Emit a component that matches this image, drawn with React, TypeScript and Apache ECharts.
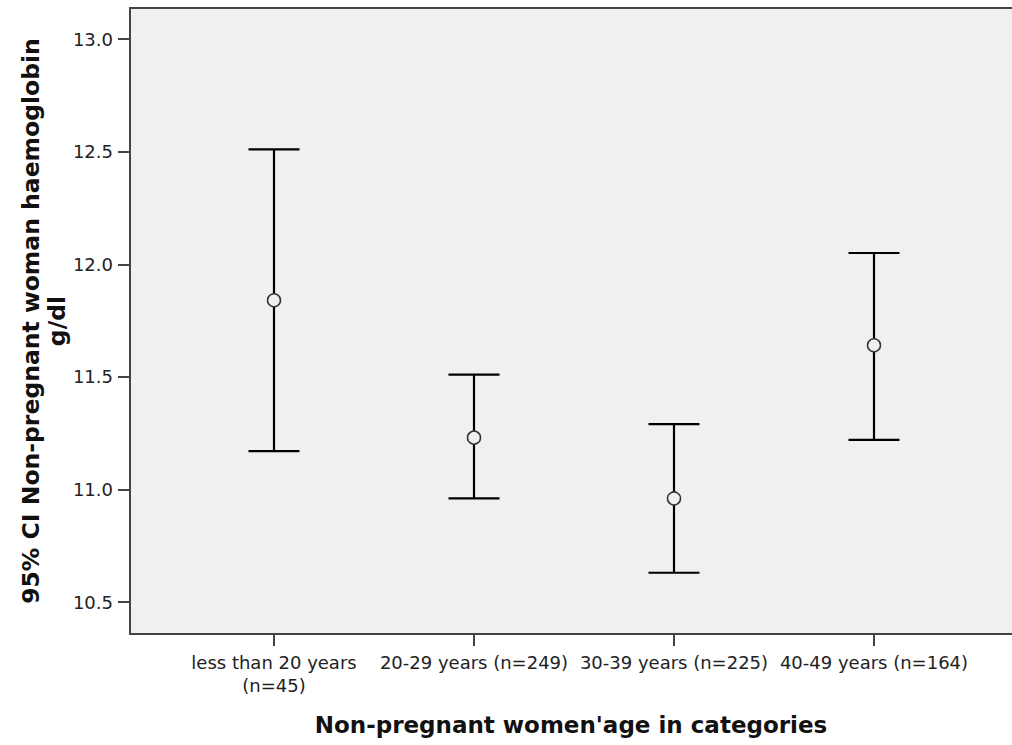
import React, { useEffect, useRef } from "react";
import * as echarts from "echarts";

const categories = [
  "less than 20 years\n(n=45)",
  "20-29 years (n=249)",
  "30-39 years (n=225)",
  "40-49 years (n=164)",
];
const categoryPositions = [1, 2, 3, 4];
const means = [11.84, 11.23, 10.96, 11.64];
const lowerCI = [11.17, 10.96, 10.63, 11.22];
const upperCI = [12.51, 11.51, 11.29, 12.05];
const yTicks = [10.5, 11.0, 11.5, 12.0, 12.5, 13.0];

const FONT = "'DejaVu Sans', 'Liberation Sans', Arial, sans-serif";
const AXIS_COLOR = "#444";
const BG = "#f0f0f0";

export default function App() {
  const ref = useRef<HTMLDivElement>(null);

  useEffect(() => {
    if (!ref.current) return;
    const chart = echarts.init(ref.current, undefined, { renderer: "svg" });

    const errData = categoryPositions.map((x, i) => [x, lowerCI[i], upperCI[i]]);
    const meanData = categoryPositions.map((x, i) => [x, means[i]]);

    chart.setOption({
      animation: false,
      backgroundColor: "#ffffff",
      grid: {
        left: 130,
        top: 8,
        right: 0,
        bottom: 111,
        show: true,
        backgroundColor: BG,
        borderWidth: 0,
      },
      xAxis: [
        {
          type: "value",
          position: "bottom",
          min: 0.28,
          max: 4.69,
          splitLine: { show: false },
          axisLine: { show: true, lineStyle: { color: AXIS_COLOR, width: 2 } },
          axisTick: {
            show: true,
            customValues: categoryPositions,
            length: 12,
            lineStyle: { color: AXIS_COLOR, width: 2 },
          },
          axisLabel: {
            customValues: categoryPositions,
            formatter: (v: number) => categories[Math.round(v) - 1] ?? "",
            fontFamily: FONT,
            fontSize: 18,
            lineHeight: 23,
            color: "#222",
            margin: 17,
          },
          name: "Non-pregnant women'age in categories",
          nameLocation: "middle",
          nameGap: 79,
          nameTextStyle: {
            fontFamily: FONT,
            fontWeight: "bold",
            fontSize: 23,
            color: "#111",
          },
        },
        {
          type: "value",
          position: "top",
          min: 0.28,
          max: 4.69,
          splitLine: { show: false },
          axisLine: { show: true, lineStyle: { color: AXIS_COLOR, width: 2 } },
          axisTick: { show: false },
          axisLabel: { show: false },
        },
      ],
      yAxis: {
        type: "value",
        min: 10.358,
        max: 13.138,
        splitLine: { show: false },
        axisLine: { show: true, lineStyle: { color: AXIS_COLOR, width: 2 } },
        axisTick: {
          show: true,
          customValues: yTicks,
          length: 12,
          lineStyle: { color: AXIS_COLOR, width: 2 },
        },
        axisLabel: {
          customValues: yTicks,
          formatter: (v: number) => v.toFixed(1),
          fontFamily: FONT,
          fontSize: 18,
          color: "#222",
          margin: 17,
        },
        name: "95% CI Non-pregnant woman haemoglobin\ng/dl",
        nameLocation: "middle",
        nameGap: 60,
        nameMoveOverlap: false,
        nameTextStyle: {
          fontFamily: FONT,
          fontWeight: "bold",
          fontSize: 23.5,
          lineHeight: 26,
          color: "#111",
          align: "center",
        },
      },
      series: [
        {
          type: "custom",
          xAxisIndex: 0,
          data: errData,
          encode: { x: 0, y: [1, 2] },
          z: 2,
          renderItem: (params: any, api: any) => {
            const x = api.value(0);
            const lo = api.coord([x, api.value(1)]);
            const hi = api.coord([x, api.value(2)]);
            const hw = 25.5;
            const style = { stroke: "#000", lineWidth: 2.2 };
            return {
              type: "group",
              children: [
                { type: "line", shape: { x1: lo[0], y1: lo[1], x2: hi[0], y2: hi[1] }, style },
                { type: "line", shape: { x1: lo[0] - hw, y1: lo[1], x2: lo[0] + hw, y2: lo[1] }, style },
                { type: "line", shape: { x1: hi[0] - hw, y1: hi[1], x2: hi[0] + hw, y2: hi[1] }, style },
              ],
            };
          },
        },
        {
          type: "scatter",
          xAxisIndex: 0,
          data: meanData,
          symbol: "circle",
          symbolSize: 13,
          z: 3,
          itemStyle: { color: BG, borderColor: "#333", borderWidth: 1.5, opacity: 1 },
        },
      ],
    });

    return () => chart.dispose();
  }, []);

  return (
    <div
      ref={ref}
      style={{ position: "fixed", left: 0, top: 0, width: 1012, height: 745 }}
    />
  );
}
